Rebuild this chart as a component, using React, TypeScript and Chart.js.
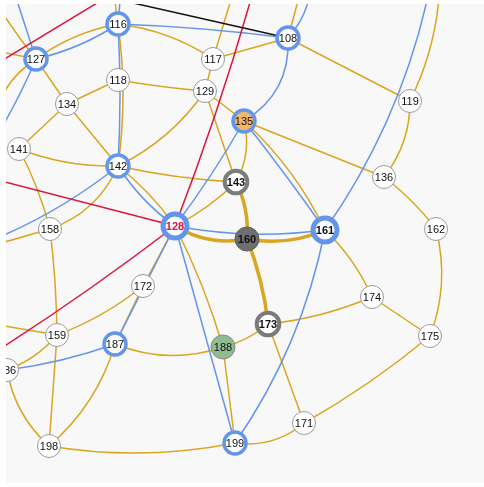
import React, { useEffect, useRef } from "react";
import { Chart, registerables } from "chart.js";

Chart.register(...registerables);

// Nodes (ids, positions in plot units, visual kind). "hidden" nodes lie outside the view.
const nodeIds = [
  "116", "127", "108", "117", "118", "129", "134", "119", "135", "141",
  "142", "136", "143", "128", "158", "160", "161", "162", "172", "174",
  "173", "159", "175", "187", "188", "186", "171", "199", "198",
  "oA", "oB", "oC", "oD1", "oD2", "oE", "oE2", "oF", "oG", "oH",
  "oI", "oJ", "oK", "oL", "oM", "oN", "oO", "oP", "oQ",
];
const nodeX = [
  118, 36, 288, 213, 118, 205, 67, 410, 244, 19,
  118, 384, 236, 175, 50, 247, 325, 436, 143, 372,
  268, 57, 430, 115, 223, 7, 304, 235, 49,
  118, 309, 240, 440, 435, -22, 7, -30, -8, -18,
  -40, -30, -30, -30, 130, -30, -30, 259, 80,
];
const nodeY = [
  24, 59, 38, 59, 80, 91, 104, 101, 121, 149,
  166, 177, 182, 226, 229, 239, 230, 229, 286, 297,
  324, 335, 336, 344, 347, 370, 423, 443, 446,
  -40, -40, -30, -30, -40, -30, -30, 46, 135, 160,
  252, 252, 320, 80, -17, 173, 368, -30, -9,
];
const nodeKind = [
  "ring", "ring", "ring", "plain", "plain", "plain", "plain", "plain", "orange", "plain",
  "ring", "plain", "grayRing", "ringBold", "plain", "gray", "ringBold", "plain", "plain", "plain",
  "grayRing", "plain", "plain", "ring", "green", "plain", "plain", "ring", "plain",
  "hidden", "hidden", "hidden", "hidden", "hidden", "hidden", "hidden", "hidden", "hidden", "hidden",
  "hidden", "hidden", "hidden", "hidden", "hidden", "hidden", "hidden", "hidden", "hidden",
];
const boldLabels = ["128", "143", "160", "161", "173"];
const redLabels = ["128"];

// Edges: [from, to, bend]
const goldEdges: [string, string, number][] = [
  ["127", "116", -10], ["116", "117", -12], ["116", "142", -10], ["127", "134", 0],
  ["134", "118", 0], ["134", "141", 0], ["134", "142", 0], ["141", "142", 10],
  ["141", "158", -5], ["142", "158", -20], ["158", "oJ", 0], ["142", "143", 5],
  ["142", "128", -6], ["129", "142", -15], ["118", "129", 2], ["117", "129", 0],
  ["117", "108", 0], ["117", "oC", 0], ["129", "135", 0], ["129", "143", 0],
  ["108", "119", 0], ["108", "oB", 0], ["116", "oA", -6], ["119", "136", -14],
  ["119", "oD1", 16], ["135", "136", 0], ["136", "162", -5], ["162", "175", -17],
  ["135", "143", -12], ["135", "161", -13], ["128", "143", 6], ["128", "172", 0],
  ["128", "188", -6], ["188", "199", 0], ["187", "188", 20], ["188", "173", 6],
  ["173", "174", 8], ["173", "171", 0], ["174", "175", 0], ["161", "174", -8],
  ["171", "175", 7], ["171", "199", -16], ["198", "199", 17], ["187", "198", -18],
  ["159", "198", 0], ["158", "159", -3], ["159", "172", 8], ["159", "oK", 0],
  ["159", "186", -8], ["186", "198", 15], ["127", "oE", -6], ["127", "oF", 0],
  ["127", "oG", 22], ["172", "187", 0],
];
const thickEdges: [string, string, number][] = [
  ["128", "160", 14], ["160", "161", 12], ["160", "173", -6], ["143", "160", -8],
];
const blueEdges: [string, string, number][] = [
  ["127", "116", 8], ["116", "108", -4], ["116", "142", -4], ["116", "oA", 4],
  ["108", "oB", 20], ["108", "135", -28], ["142", "128", 8], ["142", "oI", -16],
  ["127", "oE2", 0], ["127", "oH", -5], ["128", "135", 4], ["128", "161", 12],
  ["128", "187", 0], ["128", "199", 0], ["135", "161", -2], ["161", "oD2", 33],
  ["161", "199", -24], ["186", "187", 6],
];
const redEdges: [string, string, number][] = [
  ["oL", "oM", 0], ["128", "oN", 0], ["128", "oO", -6], ["128", "oP", 7],
];
const blackEdges: [string, string, number][] = [["108", "oQ", 0]];

const GOLD = "#daa520";
const BLUE = "#6495ed";
const RED = "#dc143c";

const KIND_STYLE: Record<string, { bg: string; border: string; bw: number; r: number }> = {
  plain: { bg: "#ffffff", border: "#9a9a9a", bw: 1, r: 11.5 },
  ring: { bg: "#ffffff", border: BLUE, bw: 3.5, r: 11 },
  ringBold: { bg: "#ffffff", border: BLUE, bw: 5, r: 12 },
  grayRing: { bg: "#ffffff", border: "#7b7b7b", bw: 4, r: 11.3 },
  gray: { bg: "#6f6f6f", border: "#5e5e5e", bw: 1, r: 12 },
  orange: { bg: "#f2b866", border: BLUE, bw: 3.5, r: 11 },
  green: { bg: "#8fbc8f", border: "#8a8a8a", bw: 1, r: 12 },
};

export default function App() {
  const ref = useRef<HTMLCanvasElement>(null);

  useEffect(() => {
    const canvas = ref.current;
    if (!canvas) return;
    const idx = (id: string) => nodeIds.indexOf(id);
    const visible = nodeIds.map((_, i) => i).filter((i) => nodeKind[i] !== "hidden");
    const styles = visible.map((i) => KIND_STYLE[nodeKind[i]]);

    const bgPlugin = {
      id: "bg",
      beforeDraw(chart: any) {
        const { ctx, chartArea: a } = chart;
        ctx.save();
        ctx.fillStyle = "#f8f8f8";
        ctx.fillRect(a.left, a.top, a.right - a.left, a.bottom - a.top);
        ctx.restore();
      },
    };

    const edgeGroups: [[string, string, number][], string, number][] = [
      [goldEdges, GOLD, 1.5],
      [thickEdges, GOLD, 3.5],
      [blueEdges, BLUE, 1.5],
      [redEdges, RED, 1.5],
      [blackEdges, "#111111", 1.5],
    ];

    const edgePlugin = {
      id: "edges",
      beforeDatasetsDraw(chart: any) {
        const { ctx, chartArea: a, scales } = chart;
        const xs = scales.x;
        const ys = scales.y;
        ctx.save();
        ctx.beginPath();
        ctx.rect(a.left, a.top, a.right - a.left, a.bottom - a.top);
        ctx.clip();
        ctx.lineCap = "round";
        for (const [list, color, width] of edgeGroups) {
          ctx.strokeStyle = color;
          ctx.lineWidth = width;
          for (const [f, t, bend] of list) {
            const i = idx(f);
            const j = idx(t);
            const x0 = xs.getPixelForValue(nodeX[i]);
            const y0 = ys.getPixelForValue(nodeY[i]);
            const x2 = xs.getPixelForValue(nodeX[j]);
            const y2 = ys.getPixelForValue(nodeY[j]);
            const dx = x2 - x0;
            const dy = y2 - y0;
            const len = Math.hypot(dx, dy) || 1;
            const nx = -dy / len;
            const ny = dx / len;
            const cx = (x0 + x2) / 2 + bend * nx;
            const cy = (y0 + y2) / 2 + bend * ny;
            ctx.beginPath();
            ctx.moveTo(x0, y0);
            ctx.quadraticCurveTo(cx, cy, x2, y2);
            ctx.stroke();
          }
        }
        ctx.restore();
      },
    };

    const labelPlugin = {
      id: "labels",
      afterDatasetsDraw(chart: any) {
        const { ctx, chartArea: a, scales } = chart;
        ctx.save();
        ctx.beginPath();
        ctx.rect(a.left, a.top, a.right - a.left, a.bottom - a.top);
        ctx.clip();
        ctx.textAlign = "center";
        ctx.textBaseline = "middle";
        for (const i of visible) {
          const id = nodeIds[i];
          const bold = boldLabels.includes(id);
          ctx.font = `${bold ? "bold " : ""}11px "Liberation Sans", Arial, sans-serif`;
          ctx.fillStyle = redLabels.includes(id) ? RED : "#111111";
          ctx.fillText(id, scales.x.getPixelForValue(nodeX[i]), scales.y.getPixelForValue(nodeY[i]) + 0.5);
        }
        ctx.restore();
      },
    };

    const chart = new Chart(canvas, {
      type: "scatter",
      data: {
        datasets: [
          {
            data: visible.map((i) => ({ x: nodeX[i], y: nodeY[i] })),
            pointRadius: styles.map((s) => s.r),
            pointHoverRadius: styles.map((s) => s.r),
            pointBackgroundColor: styles.map((s) => s.bg),
            pointBorderColor: styles.map((s) => s.border),
            pointBorderWidth: styles.map((s) => s.bw),
            pointHoverBorderWidth: styles.map((s) => s.bw),
            clip: 0,
          } as any,
        ],
      },
      options: {
        animation: false,
        responsive: false,
        maintainAspectRatio: false,
        events: [],
        layout: { autoPadding: false, padding: { left: 6, top: 4, right: 0, bottom: 4 } },
        plugins: { legend: { display: false }, tooltip: { enabled: false } },
        scales: {
          x: { type: "linear", display: false, min: 6, max: 484 },
          y: { type: "linear", display: false, min: 4, max: 483, reverse: true },
        },
      } as any,
      plugins: [bgPlugin, edgePlugin, labelPlugin],
    });
    return () => chart.destroy();
  }, []);

  return (
    <div style={{ position: "fixed", left: 0, top: 0, width: 484, height: 487, background: "#ffffff" }}>
      <canvas ref={ref} width={484} height={487} style={{ display: "block", width: 484, height: 487 }} />
    </div>
  );
}
